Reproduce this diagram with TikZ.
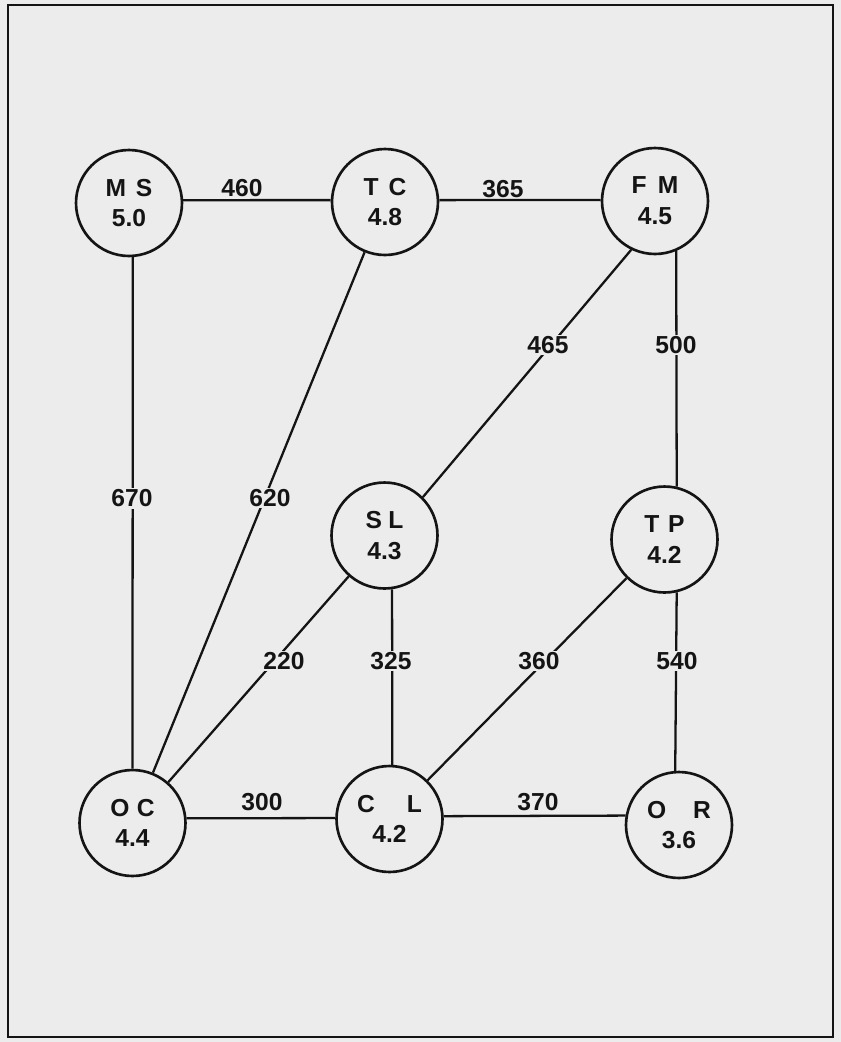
\documentclass[tikz,border=0pt]{standalone}
\usepackage{fontspec}
\setmainfont{Liberation Sans}
\definecolor{paper}{RGB}{236,236,236}
\definecolor{ink}{RGB}{20,20,20}
\begin{document}
\begin{tikzpicture}[x=0.02cm,y=-0.02cm,
  city/.style={circle,draw=ink,line width=1.5pt,fill=paper,minimum size=2.12cm,inner sep=0pt,
    align=center,text=ink,font=\bfseries\fontsize{14}{17.5}\selectfont},
  road/.style={draw=ink,line width=1.3pt},
  lbl/.style={fill=paper,text=ink,inner sep=1pt,font=\bfseries\fontsize{14}{16}\selectfont}]
\fill[paper] (0,0) rectangle (841,1042);
\useasboundingbox (0,0) rectangle (841,1042);
\draw[ink,line width=1.1pt] (8,5) rectangle (833,1037);
% cities
\node[city] (MS) at (129,203) {M\hspace{0.4em}S\\5.0};
\node[city] (TC) at (385,202) {T\hspace{0.4em}C\\4.8};
\node[city] (FM) at (655,201) {F\hspace{0.45em}M\\4.5};
\node[city] (SL) at (384.5,535.5) {S\hspace{0.25em}L\\4.3};
\node[city] (TP) at (664.5,539.5) {T\hspace{0.35em}P\\4.2};
\node[city] (OC) at (132.5,823) {O\hspace{0.3em}C\\4.4};
\node[city] (CL) at (389.5,819) {C\hspace{1.3em}L\\4.2};
\node[city] (OR) at (679,825) {O\hspace{1.1em}R\\3.6};
% roads
\draw[road] (MS.3) -- (TC.178);
\draw[road] (TC.2) -- (FM.179);
\draw[road] (MS.-86) -- (OC.90);
\draw[road] (TC) -- (OC);
\draw[road] (FM.-116) -- (SL.45);
\draw[road] (FM.-67) -- (TP.77);
\draw[road] (SL) -- (OC);
\draw[road] (SL.-82) -- (CL.87);
\draw[road] (TP) -- (CL);
\draw[road] (TP.-77) -- (OR.94);
\draw[road] (OC.5) -- (CL.179);
\draw[road] (CL.3) -- (OR.170);
% distances
\node[lbl,fill=none] (d460) at (242,188) {460};
\node[lbl,fill=none] (d365) at (503,189) {365};
\node[lbl] (d465) at (548,345) {465};
\node[lbl] (d500) at (676,345) {500};
\node[lbl] (d670) at (132,498.5) {670};
\node[lbl] (d620) at (270,498) {620};
\node[lbl] (d220) at (284,661) {220};
\node[lbl] (d325) at (391,661) {325};
\node[lbl] (d360) at (539,661) {360};
\node[lbl] (d540) at (677,661) {540};
\node[lbl,fill=none] (d300) at (262,802) {300};
\node[lbl,fill=none] (d370) at (538,802) {370};
\end{tikzpicture}
\end{document}
